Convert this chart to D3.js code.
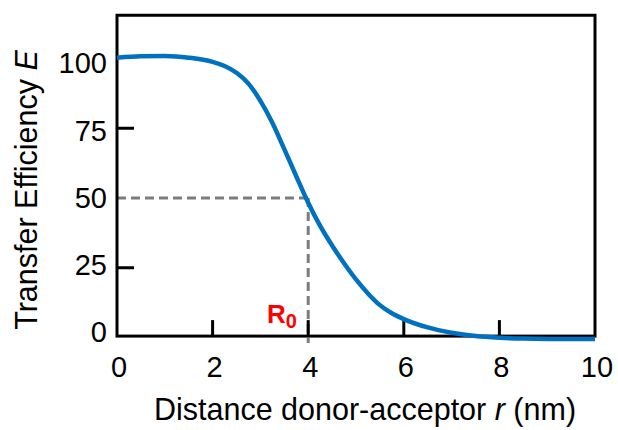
<!DOCTYPE html>
<html>
<head>
<meta charset="utf-8">
<script src="https://cdn.jsdelivr.net/npm/d3@7"></script>
<style>
  html, body { margin: 0; padding: 0; background: #fff; }
  svg { display: block; font-family: "Liberation Sans", Arial, sans-serif; }
</style>
</head>
<body>
<svg id="chart" width="618" height="430"></svg>
<script>
// ---- data ----
const distance = [0, 0.5, 1.0, 1.5, 2.0, 2.25, 2.5, 2.75, 3.0, 3.25, 3.5, 3.75, 4.0, 4.25, 4.5, 4.75, 5.0, 5.25, 5.5, 5.75, 6.0, 6.5, 7.0, 7.5, 8.0, 8.5, 9.0, 10];
const efficiency = [100.3, 100.8, 100.9, 100.3, 98.8, 97.3, 94.9, 91.0, 84.8, 77.0, 67.5, 57.8, 48.3, 40.0, 33.0, 26.6, 20.8, 15.8, 11.6, 8.7, 6.6, 3.6, 1.7, 0.5, -0.1, -0.4, -0.5, -0.5];
const xTicks = [0, 2, 4, 6, 8, 10];
const xTickMarks = [2, 4, 6, 8];
const yTicks = [0, 25, 50, 75, 100];
const yTickMarks = [25, 75];
const R0 = 4;
const E_R0 = 50;
const xTitle = "Distance donor-acceptor ";
const yTitle = "Transfer Efficiency ";

// ---- layout ----
const svg = d3.select("#chart");
const x = d3.scaleLinear().domain([0, 10]).range([117, 595]);
const y = d3.scaleLinear().domain([0, 100]).range([337.5, 58.5]);
const yLabel = d3.scaleLinear().domain([0, 100]).range([332, 63]);
const yBottom = 0.5, yTop = 115.5;

// dashed guide lines
const dashStyle = g => g.attr("stroke", "#7c7c7c").attr("stroke-width", 3)
  .attr("stroke-dasharray", "9,5").attr("fill", "none");
svg.append("line").attr("x1", x(0)).attr("x2", x(R0))
  .attr("y1", y(E_R0)).attr("y2", y(E_R0)).call(dashStyle);
svg.append("line").attr("x1", x(R0)).attr("x2", x(R0))
  .attr("y1", y(E_R0)).attr("y2", y(-2)).call(dashStyle);

// frame
svg.append("rect")
  .attr("x", x(0)).attr("y", y(yTop))
  .attr("width", x(10) - x(0)).attr("height", y(yBottom) - y(yTop))
  .attr("fill", "none").attr("stroke", "#000").attr("stroke-width", 3);

// inner ticks
svg.selectAll(".xt").data(xTickMarks).enter().append("line")
  .attr("x1", d => x(d)).attr("x2", d => x(d))
  .attr("y1", y(yBottom)).attr("y2", y(yBottom) - 16)
  .attr("stroke", "#000").attr("stroke-width", 3);
svg.selectAll(".yt").data(yTickMarks).enter().append("line")
  .attr("x1", x(0)).attr("x2", x(0) + 17)
  .attr("y1", d => y(d)).attr("y2", d => y(d))
  .attr("stroke", "#000").attr("stroke-width", 3);

// tick labels
svg.selectAll(".xl").data(xTicks).enter().append("text")
  .attr("x", d => x(d) + 2).attr("y", 377)
  .attr("text-anchor", "middle").attr("font-size", 29).attr("fill", "#000")
  .text(d => d);
svg.selectAll(".yl").data(yTicks).enter().append("text")
  .attr("x", 107).attr("y", d => yLabel(d))
  .attr("dy", "0.36em")
  .attr("text-anchor", "end").attr("font-size", 29).attr("fill", "#000")
  .text(d => d);

// axis titles
const xt = svg.append("text").attr("x", 365).attr("y", 420)
  .attr("text-anchor", "middle").attr("font-size", 30.5).attr("fill", "#000");
xt.append("tspan").text(xTitle);
xt.append("tspan").attr("font-style", "italic").text("r");
xt.append("tspan").text(" (nm)");

const yt = svg.append("text")
  .attr("transform", "translate(37,190) rotate(-90)")
  .attr("text-anchor", "middle").attr("font-size", 30.5).attr("fill", "#000");
yt.append("tspan").text(yTitle);
yt.append("tspan").attr("font-style", "italic").text("E");

// R0 label
const r0 = svg.append("text").attr("x", 267).attr("y", 323)
  .attr("font-weight", "bold").attr("fill", "#ff0000").attr("font-size", 26);
r0.append("tspan").text("R");
r0.append("tspan").attr("font-size", 20).attr("dy", 5).text("0");

// curve
const pts = distance.map((d, i) => [d, efficiency[i]]);
svg.append("path")
  .datum(pts)
  .attr("d", d3.line().x(d => x(d[0])).y(d => y(d[1])).curve(d3.curveMonotoneX))
  .attr("fill", "none").attr("stroke", "#0070c0").attr("stroke-width", 4.5)
  .attr("stroke-linecap", "butt");
</script>
</body>
</html>
